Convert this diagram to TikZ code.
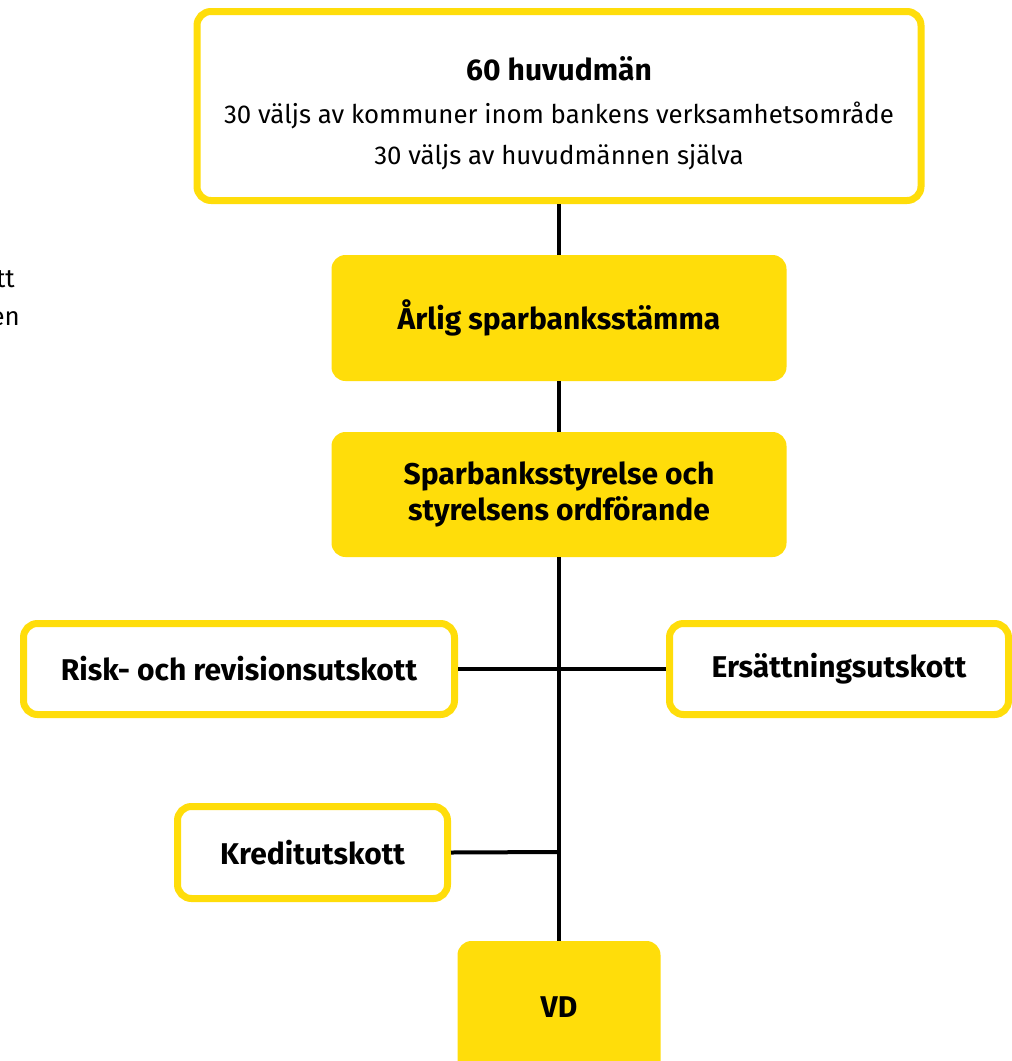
\documentclass[tikz,border=0pt]{standalone}
\usepackage{fontspec}
\setmainfont{Fira Sans}
\definecolor{gul}{RGB}{255,221,10}
\begin{document}
\begin{tikzpicture}[x=1pt,y=-1pt,
  outline/.style={draw=gul,line width=7pt,rounded corners=14pt,fill=white,inner sep=0pt},
  filled/.style={fill=gul,rounded corners=14pt,inner sep=0pt},
  conn/.style={line width=4pt,black},
  boldtxt/.style={font=\fontsize{30}{36}\selectfont\bfseries,align=center},
  regtxt/.style={font=\fontsize{25.8}{30}\selectfont}]
\clip (0,0) rectangle (1012,1061);
\fill[white] (0,0) rectangle (1012,1061);
% left cut-off text
\node[regtxt,anchor=east,inner sep=0pt] (lt1) at (15,279) {tt};
\node[regtxt,anchor=east,inner sep=0pt] (lt2) at (20,319) {en};
% boxes
\node[outline,minimum width=724pt,minimum height=189pt] (top) at (559,106) {};
\node[boldtxt] (t1) at (559,69) {60 huvudmän};
\node[regtxt] (t2) at (559,115) {30 väljs av kommuner inom bankens verksamhetsområde};
\node[regtxt] (t3) at (559,157) {30 väljs av huvudmännen själva};
\node[filled,minimum width=455pt,minimum height=126pt,boldtxt] (arlig) at (559,318) {Årlig sparbanksstämma};
\node[filled,minimum width=455pt,minimum height=125pt,boldtxt] (styr) at (559,494.5) {Sparbanksstyrelse och\\styrelsens ordförande};
\node[outline,minimum width=431pt,minimum height=91pt,boldtxt] (risk) at (239,669) {Risk- och revisionsutskott};
\node[outline,minimum width=339pt,minimum height=91pt,boldtxt] (ers) at (839,669) {Ersättningsutskott};
\node[outline,minimum width=270pt,minimum height=92pt,boldtxt] (kred) at (312.5,852.5) {Kreditutskott};
\node[filled,minimum width=203pt,minimum height=134pt] (vd) at (559,1008) {};
\node[boldtxt] (vdt) at (559,1007) {VD};
% connectors
\coordinate (j2) at (559,852);
\draw[conn] (top.south) -- (arlig.north);
\draw[conn] (arlig.south) -- (styr.north);
\draw[conn] (styr.south) -- (vd.north);
\draw[conn] (risk.east) -- (ers.west);
\draw[conn] (kred.east) -- (j2);
\end{tikzpicture}
\end{document}
